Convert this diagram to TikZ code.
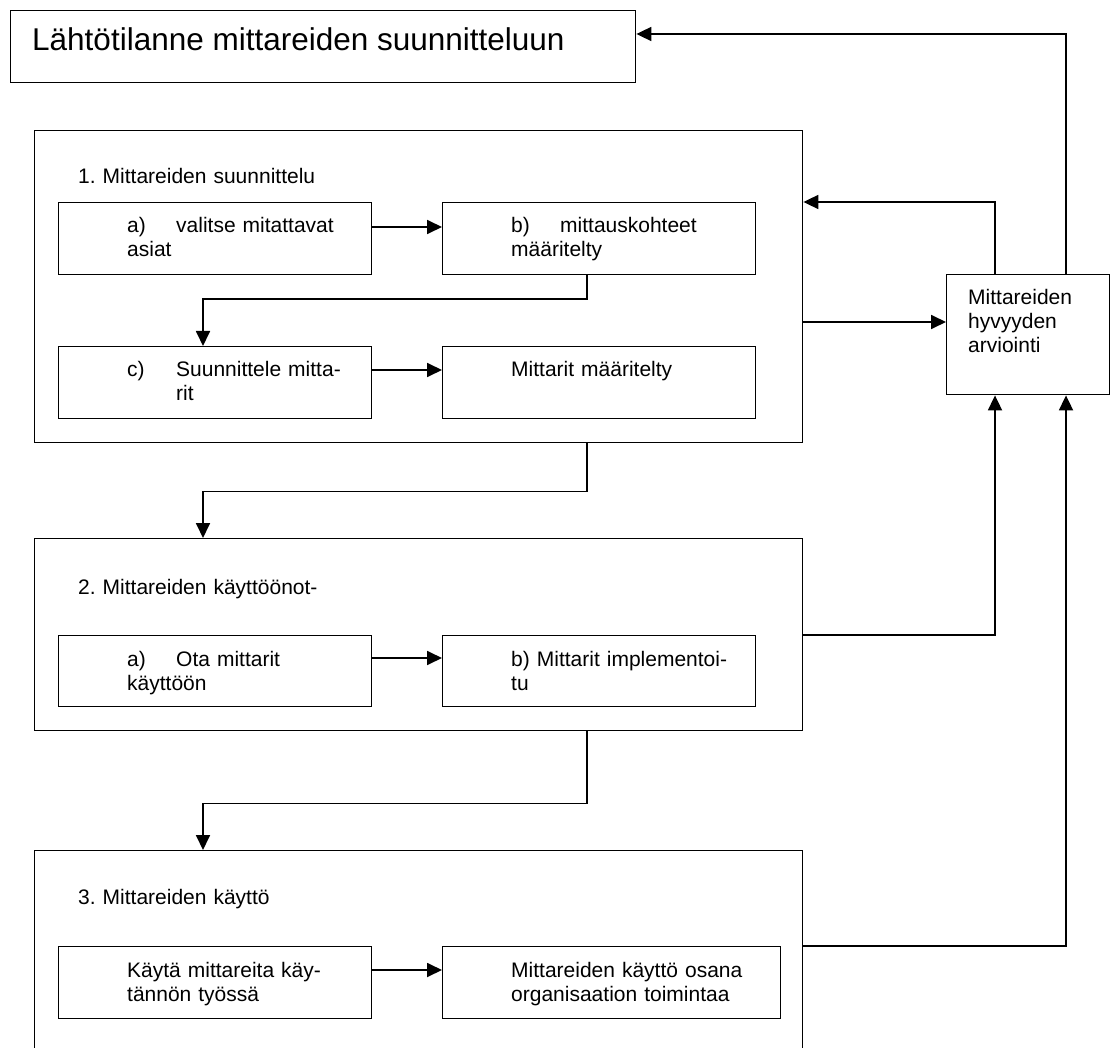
\documentclass[tikz,border=0pt]{standalone}
\usepackage{fontspec}
\setmainfont{Liberation Sans}
\usetikzlibrary{arrows.meta}
\frenchspacing

\tikzset{
  stage/.style={draw, rectangle, line width=1.4pt, anchor=north west, inner sep=0pt},
  task/.style={draw, rectangle, line width=1.4pt, anchor=north west, inner sep=0pt, minimum width=313pt, minimum height=72pt},
  txt/.style={anchor=base west, inner sep=0pt, align=left, text width=330pt, font=\fontsize{21}{24}\selectfont},
  flow/.style={line width=1.8pt, -{Triangle[length=15pt,width=14pt]}},
}
\newcommand{\lbl}[1]{\makebox[49pt][l]{#1}}

\begin{document}
\begin{tikzpicture}[x=1pt,y=-1pt]
\useasboundingbox (0,0) rectangle (1111,1048);

\node[stage, minimum width=625pt, minimum height=72pt] (T) at (10,10) {};
\node[anchor=base west, inner sep=0pt, font=\fontsize{31.5}{36}\selectfont] (Tt) at (32,51) {Lähtötilanne mittareiden suunnitteluun};

\node[stage, minimum width=768pt, minimum height=312pt] (S1) at (34,130) {};
\node[txt] (S1t) at (78,184) {1. Mittareiden suunnittelu};
\node[task] (a1) at (58,202) {};
\node[task] (b1) at (442,202) {};
\node[task] (c1) at (58,346) {};
\node[task] (d1) at (442,346) {};
\node[txt] (a1t) at (127,233) {\lbl{a)}valitse mitattavat\\asiat};
\node[txt] (b1t) at (511,233) {\lbl{b)}mittauskohteet\\määritelty};
\node[txt] (c1t) at (127,377) {\lbl{c)}Suunnittele mitta-\\\hspace*{49pt}rit};
\node[txt] (d1t) at (511,377) {Mittarit määritelty};

\node[stage, minimum width=768pt, minimum height=192pt] (S2) at (34,538) {};
\node[txt] (S2t) at (78,594) {2. Mittareiden käyttöönot-};
\node[task, minimum height=71pt] (a2) at (58,635) {};
\node[task, minimum height=71pt] (b2) at (442,635) {};
\node[txt] (a2t) at (127,666) {\lbl{a)}Ota mittarit\\käyttöön};
\node[txt] (b2t) at (511,666) {b) Mittarit implementoi-\\tu};

\node[stage, minimum width=768pt, minimum height=260pt] (S3) at (34,850) {};
\node[txt] (S3t) at (78,904) {3. Mittareiden käyttö};
\node[task] (a3) at (58,946) {};
\node[task, minimum width=338pt] (b3) at (442,946) {};
\node[txt] (a3t) at (127,977) {Käytä mittareita käy-\\tännön työssä};
\node[txt] (b3t) at (511,977) {Mittareiden käyttö osana\\organisaation toimintaa};

\node[stage, minimum width=163pt, minimum height=120pt] (E) at (946,274) {};
\node[txt, text width=140pt] (Et) at (968,305) {Mittareiden\\hyvyyden\\arviointi};

\coordinate (jl) at (203,0);
\coordinate (jr) at (587,0);
\coordinate (ea) at (995,0);
\coordinate (eb) at (1066,0);
\coordinate (ein) at ([shift={(0,48)}]E.north west);
\coordinate (s3out) at ([shift={(0,96)}]S3.north east);

\draw[flow] ([shift={(0,25)}]a1.north east) -- ([shift={(0,25)}]b1.north west);
\draw[flow] ([shift={(0,24)}]c1.north east) -- ([shift={(0,24)}]d1.north west);
\draw[flow] ([shift={(0,23)}]a2.north east) -- ([shift={(0,23)}]b2.north west);
\draw[flow] ([shift={(0,24)}]a3.north east) -- ([shift={(0,24)}]b3.north west);

\draw[flow] (jr |- b1.south) -- ++(0,24) -| (jl |- c1.north);
\draw[flow] (jr |- S1.south) -- ++(0,48) -| (jl |- S2.north);
\draw[flow] (jr |- S2.south) -- ++(0,72) -| (jl |- S3.north);

\draw[flow] (S1.east |- ein) -- (ein);
\draw[flow] (ea |- E.north) |- (S1.east |- b1.north);
\draw[flow] (eb |- E.north) |- ([shift={(0,24)}]T.north east);
\draw[flow] (S2.east) -| (ea |- E.south);
\draw[flow] (s3out) -| (eb |- E.south);
\end{tikzpicture}
\end{document}
